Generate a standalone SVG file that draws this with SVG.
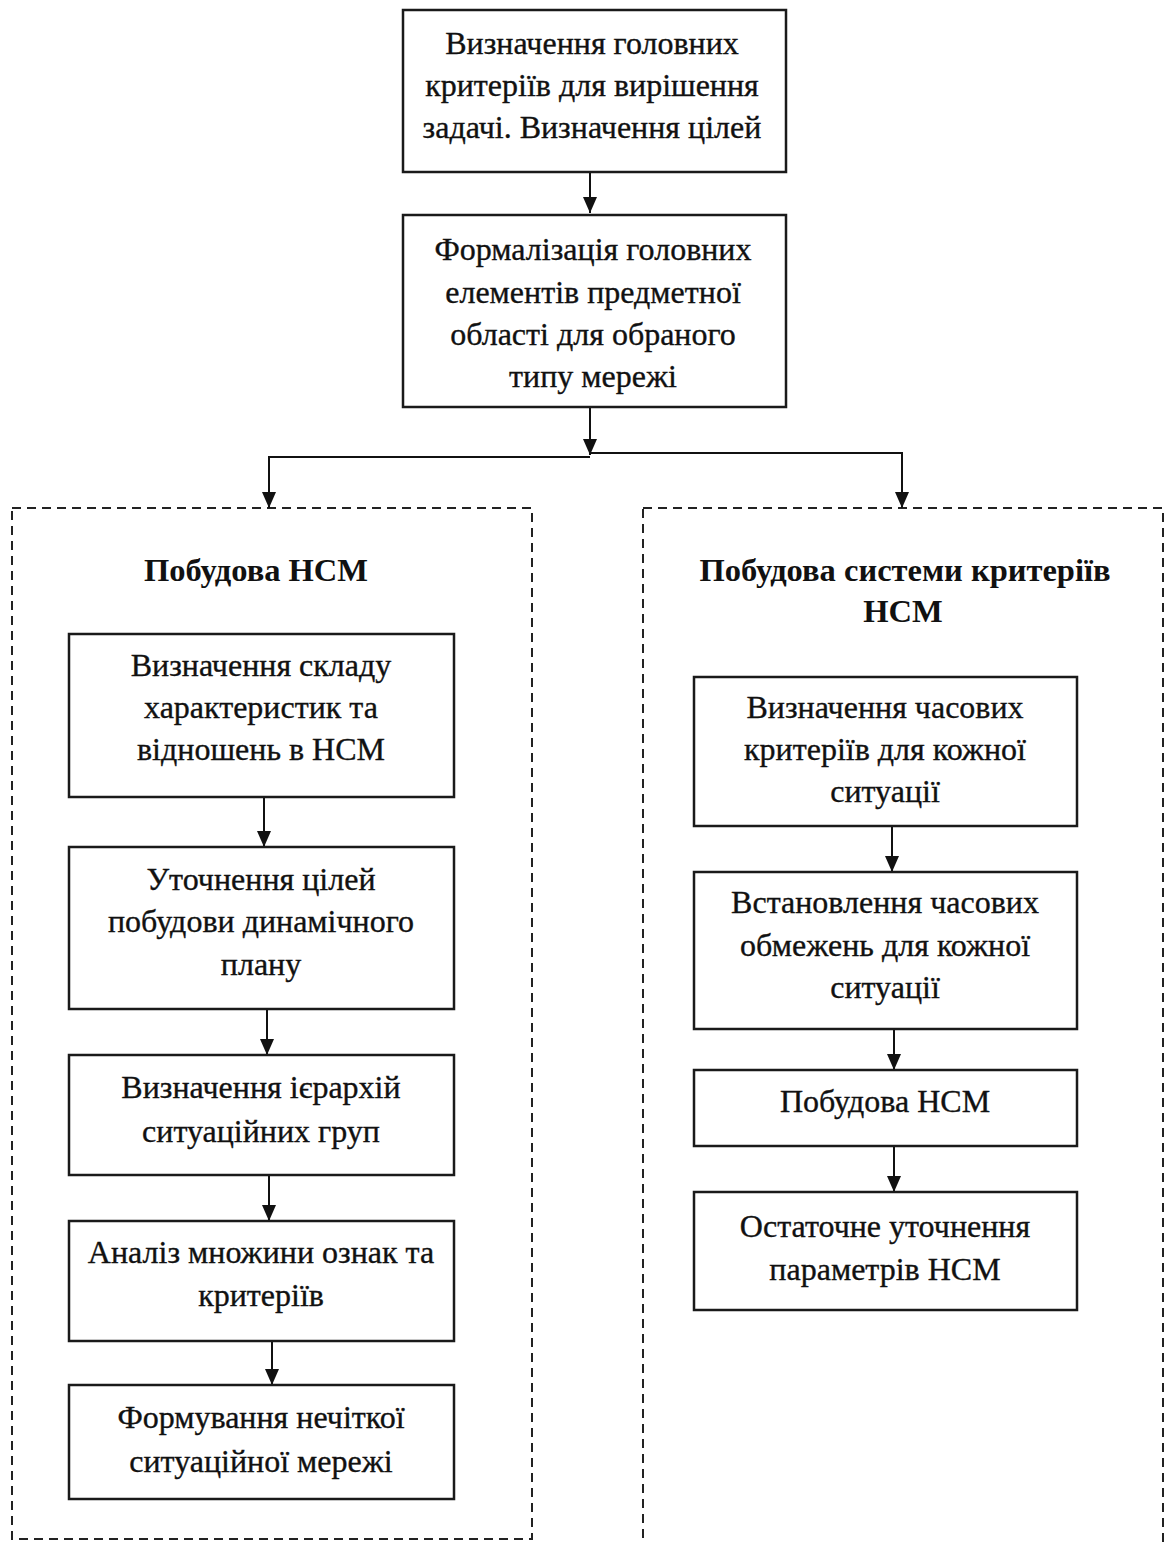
<svg xmlns="http://www.w3.org/2000/svg" width="1166" height="1542" viewBox="0 0 1166 1542">
  <style>
    .box { fill: #ffffff; stroke: #1a1a1a; stroke-width: 2.5; }
    .group { fill: none; stroke: #222222; stroke-width: 2; stroke-dasharray: 9 6; }
    .t { font-family: "Liberation Serif", "Times New Roman", serif; font-size: 32px; fill: #111111; stroke: #111111; stroke-width: 0.35; text-anchor: middle; }
    .h { font-family: "Liberation Serif", "Times New Roman", serif; font-size: 32.5px; font-weight: bold; fill: #111111; text-anchor: middle; }
    .link { fill: none; stroke: #111111; stroke-width: 2; }
  </style>
  <defs>
    <marker id="arrowDown" viewBox="0 0 14 16" refX="7" refY="16" markerWidth="14" markerHeight="16" markerUnits="userSpaceOnUse" orient="0">
      <path d="M0 0 L14 0 L7 16 Z" fill="#111111"/>
    </marker>
  </defs>

  <rect width="1166" height="1542" fill="#ffffff"/>

  <!-- dashed group frames -->
  <g id="group-left">
    <rect class="group" x="12" y="508" width="520" height="1031"/>
    <text class="h" x="256" y="581">Побудова НСМ</text>
  </g>
  <g id="group-right">
    <rect class="group" x="643" y="508" width="520" height="1060"/>
    <text class="h" x="905" y="581">Побудова системи критеріїв</text>
    <text class="h" x="903" y="622">НСМ</text>
  </g>

  <!-- connectors -->
  <g id="connectors">
    <path class="link" d="M590 172 V213" marker-end="url(#arrowDown)"/>
    <path class="link" d="M590 407 V455" marker-end="url(#arrowDown)"/>
    <path class="link" d="M590 457 H269 V508" marker-end="url(#arrowDown)"/>
    <path class="link" d="M590 453 H902 V508" marker-end="url(#arrowDown)"/>
    <path class="link" d="M264 797 V847" marker-end="url(#arrowDown)"/>
    <path class="link" d="M267 1009 V1055" marker-end="url(#arrowDown)"/>
    <path class="link" d="M269 1175 V1221" marker-end="url(#arrowDown)"/>
    <path class="link" d="M272 1341 V1385" marker-end="url(#arrowDown)"/>
    <path class="link" d="M892 826 V872" marker-end="url(#arrowDown)"/>
    <path class="link" d="M894 1029 V1070" marker-end="url(#arrowDown)"/>
    <path class="link" d="M894 1146 V1192" marker-end="url(#arrowDown)"/>
  </g>

  <!-- top chain -->
  <g id="node-goals">
    <rect class="box" x="403" y="10" width="383" height="162"/>
    <text class="t" x="592" y="54">Визначення головних</text>
    <text class="t" x="592" y="96">критеріїв для вирішення</text>
    <text class="t" x="592" y="138">задачі. Визначення цілей</text>
  </g>
  <g id="node-formalization">
    <rect class="box" x="403" y="215" width="383" height="192"/>
    <text class="t" x="593" y="260">Формалізація головних</text>
    <text class="t" x="593" y="303">елементів предметної</text>
    <text class="t" x="593" y="345">області для обраного</text>
    <text class="t" x="593" y="387">типу мережі</text>
  </g>

  <!-- left column -->
  <g id="node-composition">
    <rect class="box" x="69" y="634" width="385" height="163"/>
    <text class="t" x="261" y="676">Визначення складу</text>
    <text class="t" x="261" y="718">характеристик та</text>
    <text class="t" x="261" y="760">відношень в НСМ</text>
  </g>
  <g id="node-refine-goals">
    <rect class="box" x="69" y="847" width="385" height="162"/>
    <text class="t" x="261" y="890">Уточнення цілей</text>
    <text class="t" x="261" y="932">побудови динамічного</text>
    <text class="t" x="261" y="975">плану</text>
  </g>
  <g id="node-hierarchies">
    <rect class="box" x="69" y="1055" width="385" height="120"/>
    <text class="t" x="261" y="1098">Визначення ієрархій</text>
    <text class="t" x="261" y="1142">ситуаційних груп</text>
  </g>
  <g id="node-features">
    <rect class="box" x="69" y="1221" width="385" height="120"/>
    <text class="t" x="261" y="1263">Аналіз множини ознак та</text>
    <text class="t" x="261" y="1306">критеріїв</text>
  </g>
  <g id="node-network">
    <rect class="box" x="69" y="1385" width="385" height="114"/>
    <text class="t" x="261" y="1428">Формування нечіткої</text>
    <text class="t" x="261" y="1472">ситуаційної мережі</text>
  </g>

  <!-- right column -->
  <g id="node-time-criteria">
    <rect class="box" x="694" y="677" width="383" height="149"/>
    <text class="t" x="885" y="718">Визначення часових</text>
    <text class="t" x="885" y="760">критеріїв для кожної</text>
    <text class="t" x="885" y="802">ситуації</text>
  </g>
  <g id="node-time-limits">
    <rect class="box" x="694" y="872" width="383" height="157"/>
    <text class="t" x="885" y="913">Встановлення часових</text>
    <text class="t" x="885" y="956">обмежень для кожної</text>
    <text class="t" x="885" y="998">ситуації</text>
  </g>
  <g id="node-build">
    <rect class="box" x="694" y="1070" width="383" height="76"/>
    <text class="t" x="885" y="1112">Побудова НСМ</text>
  </g>
  <g id="node-params">
    <rect class="box" x="694" y="1192" width="383" height="118"/>
    <text class="t" x="885" y="1237">Остаточне уточнення</text>
    <text class="t" x="885" y="1280">параметрів НСМ</text>
  </g>
</svg>
